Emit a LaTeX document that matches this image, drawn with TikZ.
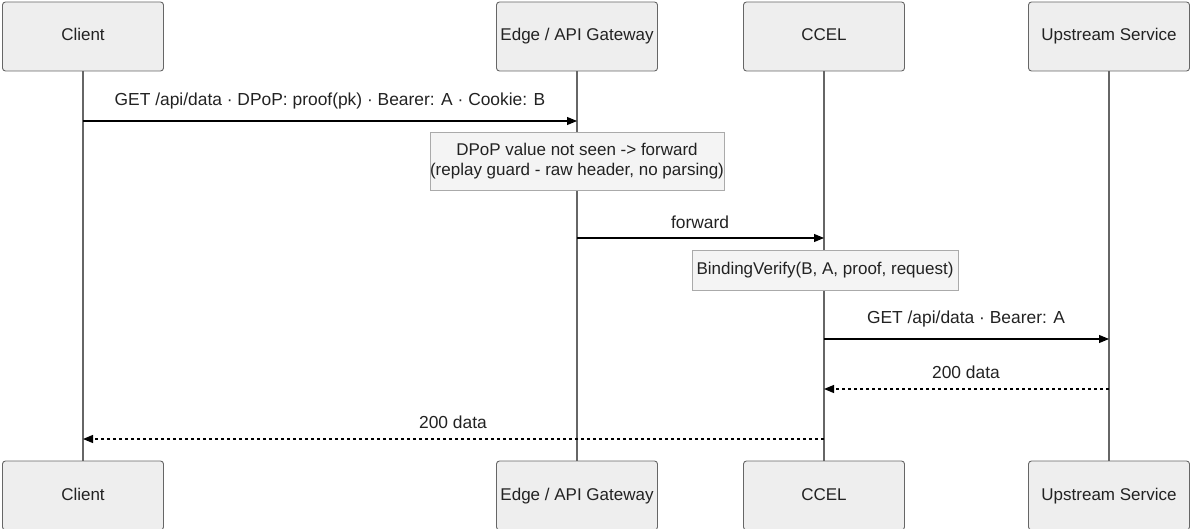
\documentclass[tikz,border=0pt]{standalone}
\usepackage{fontspec}
\setmainfont{Liberation Sans}
\usetikzlibrary{arrows.meta}
\definecolor{actorfill}{HTML}{EEEEEE}
\definecolor{actorline}{HTML}{666666}
\definecolor{notefill}{HTML}{F4F4F4}
\definecolor{noteline}{HTML}{AAAAAA}
\definecolor{txt}{HTML}{222222}
\tikzset{
  actor/.style={draw=actorline, fill=actorfill, rounded corners=3pt, line width=0.9pt,
    minimum width=161pt, minimum height=69pt, inner sep=0pt, text=txt,
    text height=12.5pt, text depth=3.5pt, font=\fontsize{17}{20}\selectfont},
  lifeline/.style={draw=actorline, line width=1.4pt},
  msg/.style={draw=black, line width=1.1pt, -{Triangle[length=10pt,width=8pt]}},
  reply/.style={msg, dash pattern=on 3pt off 3pt},
  msglabel/.style={text=txt, font=\fontsize{17.4}{20}\selectfont, inner sep=0pt},
  note/.style={draw=noteline, fill=notefill, line width=0.8pt, inner sep=0pt, text=txt,
    font=\fontsize{17}{20}\selectfont, align=center}
}
\begin{document}
\begin{tikzpicture}[x=1pt,y=-1pt]
\useasboundingbox (0,0) rectangle (1190,529);
% participants, top and bottom
\node[actor] (c1) at (83,36.5) {Client};
\node[actor] (e1) at (577,36.5) {Edge / API Gateway};
\node[actor] (x1) at (824,36.5) {CCEL};
\node[actor] (u1) at (1109,36.5) {Upstream Service};
\node[actor] (c2) at (83,495.5) {Client};
\node[actor] (e2) at (577,495.5) {Edge / API Gateway};
\node[actor] (x2) at (824,495.5) {CCEL};
\node[actor] (u2) at (1109,495.5) {Upstream Service};
% lifelines
\draw[lifeline] (c1.south) -- (c2.north);
\draw[lifeline] (e1.south) -- (e2.north);
\draw[lifeline] (x1.south) -- (x2.north);
\draw[lifeline] (u1.south) -- (u2.north);
% message anchors on the lifelines
\coordinate (c-m1) at (83,121);   \coordinate (e-m1) at (577,121);
\coordinate (e-m2) at (577,238);  \coordinate (x-m2) at (824,238);
\coordinate (x-m3) at (824,339);  \coordinate (u-m3) at (1109,339);
\coordinate (u-m4) at (1109,389); \coordinate (x-m4) at (824,389);
\coordinate (x-m5) at (824,439);  \coordinate (c-m5) at (83,439);
% messages
\draw[msg] (c-m1) -- (e-m1);
\node[msglabel] (l1) at (330,101) {GET /api/data · DPoP: proof(pk) · Bearer: A · Cookie: B};
\node[note, minimum width=290pt, minimum height=58pt] (n1) at (577,161)
  {DPoP value not seen -> forward\\(replay guard - raw header, no parsing)};
\draw[msg] (e-m2) -- (x-m2);
\node[msglabel] (l2) at (700,222) {forward};
\node[note, minimum width=266pt, minimum height=40pt] (n2) at (825,270)
  {BindingVerify(B, A, proof, request)};
\draw[msg] (x-m3) -- (u-m3);
\node[msglabel] (l3) at (966,319) {GET /api/data · Bearer: A};
\draw[reply] (u-m4) -- (x-m4);
\node[msglabel] (l4) at (966,372) {200 data};
\draw[reply] (x-m5) -- (c-m5);
\node[msglabel] (l5) at (453,422) {200 data};
\end{tikzpicture}
\end{document}
